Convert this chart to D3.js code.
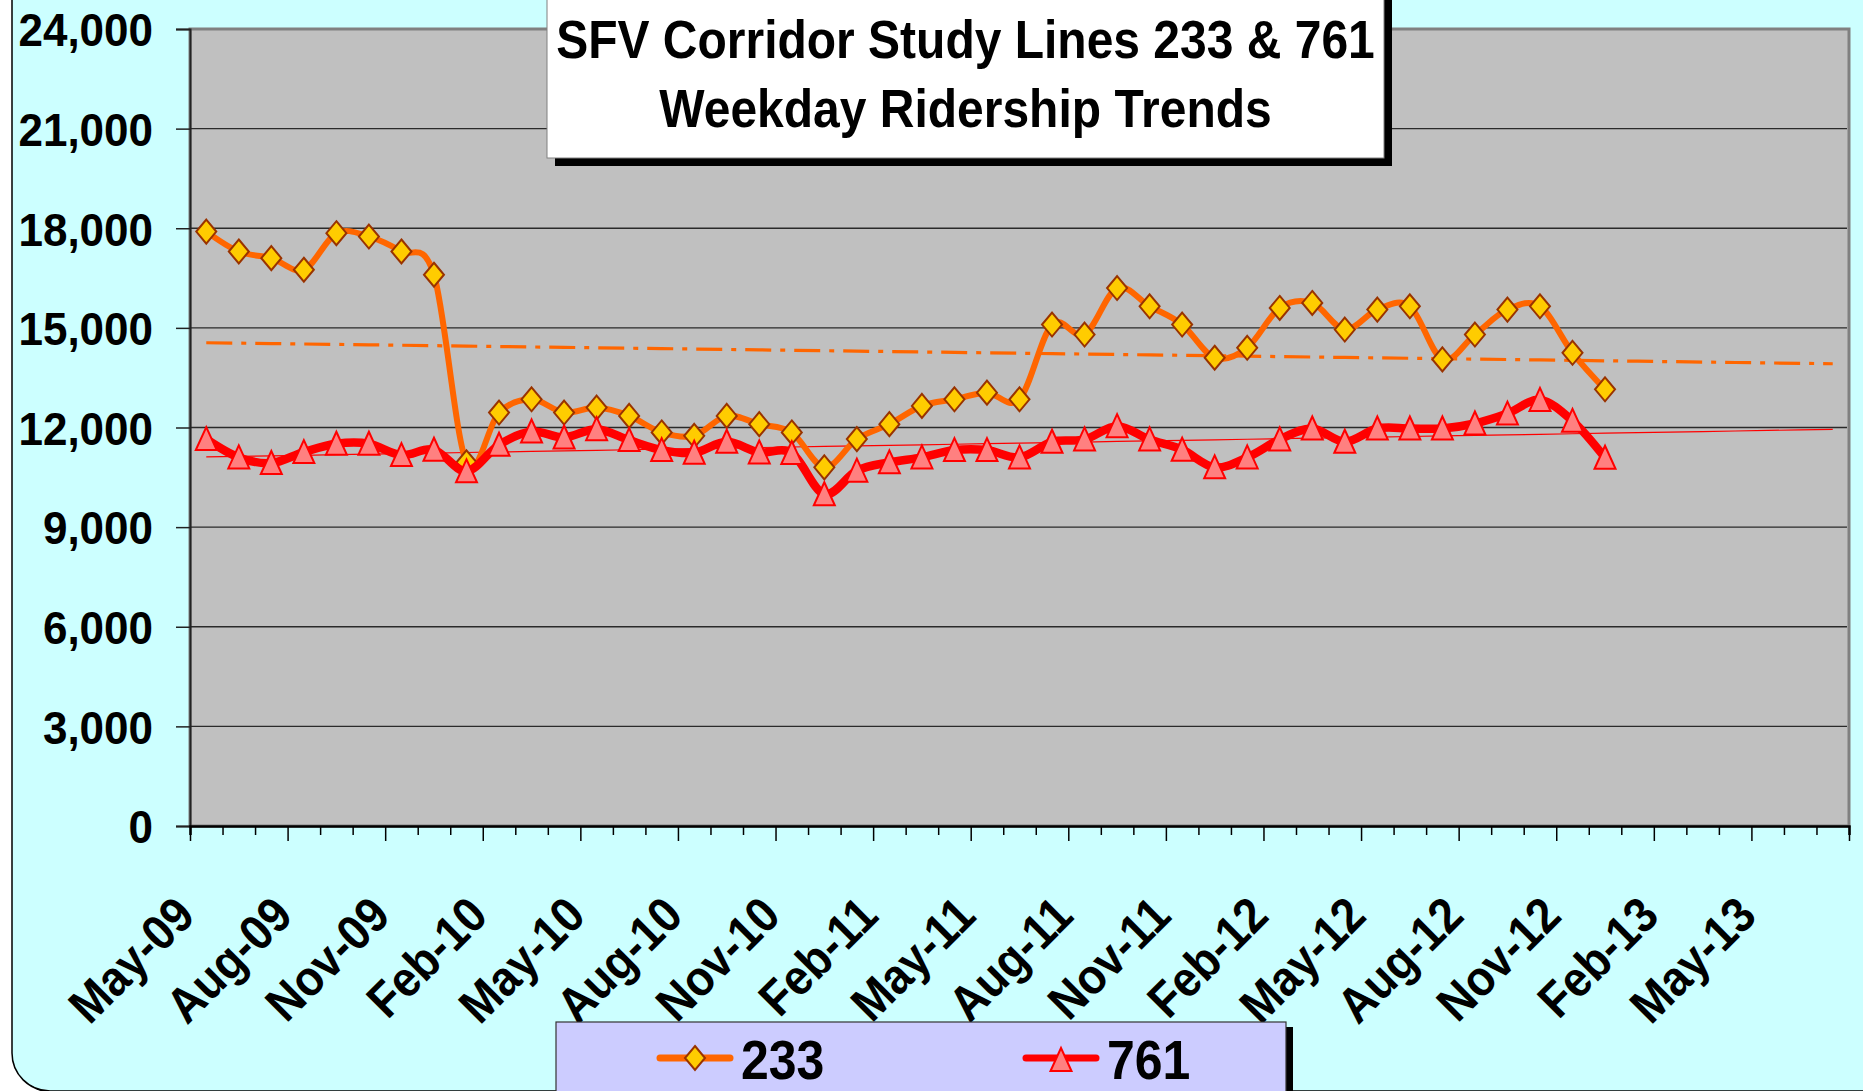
<!DOCTYPE html>
<html>
<head>
<meta charset="utf-8">
<script src="https://cdn.jsdelivr.net/npm/d3@7"></script>
<style>
  body { margin: 0; background: #fff; overflow: hidden; }
  text { font-family: Arial, "Liberation Sans", sans-serif; font-weight: bold; fill: #000; }
</style>
</head>
<body>
<div id="chart"></div>
<script>
'use strict';

// Monthly categories on the x axis (May-09 .. Jul-13)
const months = [
  'May-09', 'Jun-09', 'Jul-09', 'Aug-09', 'Sep-09', 'Oct-09', 'Nov-09', 'Dec-09',
  'Jan-10', 'Feb-10', 'Mar-10', 'Apr-10', 'May-10', 'Jun-10', 'Jul-10', 'Aug-10',
  'Sep-10', 'Oct-10', 'Nov-10', 'Dec-10', 'Jan-11', 'Feb-11', 'Mar-11', 'Apr-11',
  'May-11', 'Jun-11', 'Jul-11', 'Aug-11', 'Sep-11', 'Oct-11', 'Nov-11', 'Dec-11',
  'Jan-12', 'Feb-12', 'Mar-12', 'Apr-12', 'May-12', 'Jun-12', 'Jul-12', 'Aug-12',
  'Sep-12', 'Oct-12', 'Nov-12', 'Dec-12', 'Jan-13', 'Feb-13', 'Mar-13', 'Apr-13',
  'May-13', 'Jun-13', 'Jul-13',
];

// Only every third month gets a label
const monthLabels = [
  'May-09', 'Aug-09', 'Nov-09', 'Feb-10', 'May-10', 'Aug-10', 'Nov-10', 'Feb-11',
  'May-11', 'Aug-11', 'Nov-11', 'Feb-12', 'May-12', 'Aug-12', 'Nov-12', 'Feb-13', 'May-13',
];

// Weekday ridership, May-09 .. Dec-12
const line233 = [
  17900, 17300, 17100, 16750, 17850, 17750, 17300, 16600,
  10950, 12450, 12850, 12450, 12600, 12350, 11850, 11750,
  12350, 12100, 11850, 10800, 11650, 12100, 12650, 12850,
  13050, 12850, 15100, 14800, 16200, 15650, 15100, 14100,
  14400, 15600, 15750, 14950, 15550, 15650, 14050, 14800,
  15550, 15650, 14250, 13150,
];

const line761 = [
  11650, 11100, 10930, 11260, 11510, 11510, 11170, 11330,
  10680, 11480, 11880, 11700, 11950, 11620, 11320, 11240,
  11570, 11250, 11230, 9990, 10700, 10950, 11100, 11320,
  11320, 11100, 11570, 11640, 12040, 11640, 11330, 10800,
  11100, 11640, 11970, 11570, 11970, 11970, 11970, 12120,
  12420, 12830, 12200, 11090,
];

const yTicks = [0, 3000, 6000, 9000, 12000, 15000, 18000, 21000, 24000];

const titleLines = ['SFV Corridor Study Lines 233 & 761', 'Weekday Ridership Trends'];

const width = 1863;
const height = 1091;

// the original text is a little taller than plain Arial
const stretch = 1.1;

const plot = {
  left: 190,
  right: 1849,
  top: 29,
  bottom: 826,
};

const svg = d3.select('#chart')
  .append('svg')
  .attr('width', width)
  .attr('height', height);

// Outer cyan frame with a rounded corner and a thin shadow
svg.append('rect')
  .attr('x', 15)
  .attr('y', -40)
  .attr('width', 1900)
  .attr('height', 1133)
  .attr('rx', 38)
  .attr('fill', '#000');

svg.append('rect')
  .attr('x', 12)
  .attr('y', -40)
  .attr('width', 1900)
  .attr('height', 1131)
  .attr('rx', 38)
  .attr('fill', '#CCFFFF')
  .attr('stroke', '#000')
  .attr('stroke-width', 1.5);

const x = d3.scaleBand()
  .domain(months)
  .range([plot.left, plot.right]);

const xCenter = (m) => x(m) + x.bandwidth() / 2;

const y = d3.scaleLinear()
  .domain([0, 24000])
  .range([plot.bottom, plot.top]);

// Plot area
svg.append('rect')
  .attr('x', plot.left)
  .attr('y', plot.top)
  .attr('width', plot.right - plot.left)
  .attr('height', plot.bottom - plot.top)
  .attr('fill', '#C0C0C0')
  .attr('stroke', '#808080')
  .attr('stroke-width', 3);

// Horizontal gridlines
svg.append('g')
  .selectAll('line')
  .data(yTicks.filter((d) => d > 0 && d < 24000))
  .join('line')
  .attr('x1', plot.left)
  .attr('x2', plot.right - 2)
  .attr('y1', (d) => y(d))
  .attr('y2', (d) => y(d))
  .attr('stroke', '#2a2a2a')
  .attr('stroke-width', 1.4);

// Y axis
const yAxis = d3.axisLeft(y)
  .tickValues(yTicks)
  .tickSize(14)
  .tickPadding(23)
  .tickFormat(d3.format(','));

const yAxisG = svg.append('g')
  .attr('transform', `translate(${plot.left}, 0)`)
  .call(yAxis);

yAxisG.select('.domain')
  .attr('stroke', '#222')
  .attr('stroke-width', 2);

yAxisG.selectAll('.tick line')
  .attr('stroke', '#222')
  .attr('stroke-width', 1.5);

yAxisG.selectAll('.tick text')
  .attr('font-size', 44)
  .attr('dy', '0.36em')
  .attr('transform', 'scale(1, 1.06)')
  .style('font-family', 'Arial, "Liberation Sans", sans-serif')
  .style('font-weight', 'bold');

// X axis: ticks sit on the month boundaries, the long ones every third month
const xBoundary = d3.scaleLinear()
  .domain([0, months.length])
  .range([plot.left, plot.right]);

const xAxisG = svg.append('g')
  .attr('transform', `translate(0, ${plot.bottom})`)
  .call(d3.axisBottom(xBoundary)
    .tickValues(d3.range(0, months.length + 1))
    .tickSize(9)
    .tickFormat(''));

xAxisG.select('.domain')
  .attr('stroke', '#000')
  .attr('stroke-width', 2.5);

xAxisG.selectAll('.tick line')
  .attr('y2', (d) => (d % 3 === 0 ? 15 : 9))
  .attr('stroke', '#000')
  .attr('stroke-width', 1.5);

svg.append('g')
  .selectAll('text')
  .data(monthLabels)
  .join('text')
  .attr('text-anchor', 'end')
  .attr('font-size', 45)
  .attr('transform', (d) => `translate(${xCenter(d) - 9}, 918) rotate(-45) scale(1, ${stretch})`)
  .text((d) => d);

// Linear trend of a series, forecast across all months
const trend = (values) => {
  const n = values.length;
  const mi = (n - 1) / 2;
  const mv = d3.mean(values);
  const sxy = d3.sum(values, (v, i) => (i - mi) * (v - mv));
  const sxx = d3.sum(values, (v, i) => (i - mi) * (i - mi));
  const slope = sxy / sxx;
  return months.map((m, i) => mv + slope * (i - mi));
};

const straight = d3.line()
  .x((d, i) => xCenter(months[i]))
  .y((d) => y(d));

svg.append('path')
  .attr('d', straight(trend(line233)))
  .attr('fill', 'none')
  .attr('stroke', '#FF6600')
  .attr('stroke-width', 3.2)
  .attr('stroke-dasharray', '26 9 5 9');

svg.append('path')
  .attr('d', straight(trend(line761)))
  .attr('fill', 'none')
  .attr('stroke', '#FF0000')
  .attr('stroke-width', 1.2);

// Smoothed series lines
const smooth = d3.line()
  .x((d, i) => xCenter(months[i]))
  .y((d) => y(d))
  .curve(d3.curveCardinal.tension(0));

const diamond = 'M0,-12 L10,0 L0,12 L-10,0 Z';
const triangle = 'M0,-12 L10.5,11 L-10.5,11 Z';

const series = [
  { name: '233', values: line233, color: '#FF6600', width: 6, marker: diamond, fill: '#FFCC00', stroke: '#993300' },
  { name: '761', values: line761, color: '#FF0000', width: 8.5, marker: triangle, fill: '#FF8080', stroke: '#FF0000' },
];

series.forEach((s) => {
  svg.append('path')
    .attr('d', smooth(s.values))
    .attr('fill', 'none')
    .attr('stroke', s.color)
    .attr('stroke-width', s.width)
    .attr('stroke-linejoin', 'round');

  svg.append('g')
    .selectAll('path')
    .data(s.values)
    .join('path')
    .attr('d', s.marker)
    .attr('transform', (d, i) => `translate(${xCenter(months[i])}, ${y(d)})`)
    .attr('fill', s.fill)
    .attr('stroke', s.stroke)
    .attr('stroke-width', 2);
});

// Title box with drop shadow
const titleBox = { x: 547, y: -10, w: 837, h: 168 };

svg.append('rect')
  .attr('x', titleBox.x + 8)
  .attr('y', titleBox.y + 8)
  .attr('width', titleBox.w)
  .attr('height', titleBox.h)
  .attr('fill', '#000');

svg.append('rect')
  .attr('x', titleBox.x)
  .attr('y', titleBox.y)
  .attr('width', titleBox.w)
  .attr('height', titleBox.h)
  .attr('fill', '#fff')
  .attr('stroke', '#808080')
  .attr('stroke-width', 1);

svg.append('g')
  .selectAll('text')
  .data(titleLines)
  .join('text')
  .attr('text-anchor', 'middle')
  .attr('font-size', 48)
  .attr('transform', (d, i) => `translate(${titleBox.x + titleBox.w / 2}, ${58 + i * 69}) scale(1, ${stretch})`)
  .text((d) => d);

// Legend box
const legendBox = { x: 556, y: 1022, w: 730, h: 100 };

svg.append('rect')
  .attr('x', legendBox.x + 7)
  .attr('y', legendBox.y + 5)
  .attr('width', legendBox.w)
  .attr('height', legendBox.h)
  .attr('fill', '#000');

svg.append('rect')
  .attr('x', legendBox.x)
  .attr('y', legendBox.y)
  .attr('width', legendBox.w)
  .attr('height', legendBox.h)
  .attr('fill', '#CCCCFF')
  .attr('stroke', '#333')
  .attr('stroke-width', 1.2);

const legendX = [660, 1026];

series.forEach((s, i) => {
  const g = svg.append('g')
    .attr('transform', `translate(${legendX[i]}, 1058)`);

  g.append('line')
    .attr('x1', 0)
    .attr('x2', 70)
    .attr('stroke', s.color)
    .attr('stroke-width', 7)
    .attr('stroke-linecap', 'round');

  g.append('path')
    .attr('d', s.marker)
    .attr('transform', `translate(35, ${i === 0 ? 0 : 2})`)
    .attr('fill', s.fill)
    .attr('stroke', s.stroke)
    .attr('stroke-width', 2);

  g.append('text')
    .attr('font-size', 50)
    .attr('transform', `translate(81, 21) scale(1, 1.12)`)
    .text(s.name);
});
</script>
</body>
</html>
